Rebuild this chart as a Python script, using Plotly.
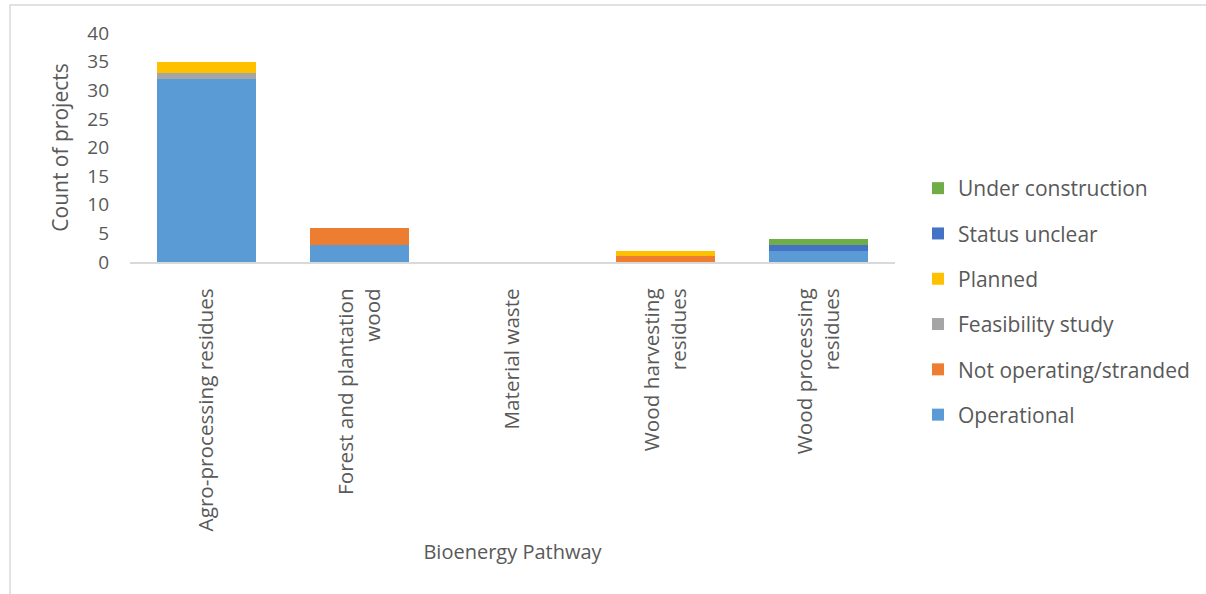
import plotly.graph_objects as go

categories = ["Agro-processing residues", "Forest and plantation<br>wood", "Material waste",
              "Wood harvesting<br>residues", "Wood processing<br>residues"]
operational = [32, 3, 0, 0, 2]
not_operating = [0, 3, 0, 1, 0]
feasibility = [1, 0, 0, 0, 0]
planned = [2, 0, 0, 1, 0]
status_unclear = [0, 0, 0, 0, 1]
under_construction = [0, 0, 0, 0, 1]

series = [
    ("Operational", operational, "#5B9BD5"),
    ("Not operating/stranded", not_operating, "#ED7D31"),
    ("Feasibility study", feasibility, "#A5A5A5"),
    ("Planned", planned, "#FFC000"),
    ("Status unclear", status_unclear, "#4472C4"),
    ("Under construction", under_construction, "#70AD47"),
]

FONT = "Open Sans"
TXT = "#595959"

fig = go.Figure()
n = len(series)
for i, (name, vals, col) in enumerate(series):
    fig.add_trace(go.Bar(x=categories, y=vals, name=name, marker_color=col,
                         marker_line_width=0, legendgroup=f"g{i}", legendrank=n - i))

L, R, T, B = 130, 311, 33, 332
W, H = 1206, 594
ph = H - T - B
pw = W - L - R

fig.update_layout(
    width=W, height=H, barmode="stack", bargap=0.353,
    margin=dict(l=L, r=R, t=T, b=B, autoexpand=False),
    paper_bgcolor="white", plot_bgcolor="white",
    font=dict(family=FONT, color=TXT, size=17),
    legend=dict(traceorder="grouped", tracegroupgap=15, maxheight=500,
                x=(918 - L) / pw, xanchor="left", y=(T + ph - 168) / ph, yanchor="top",
                font=dict(size=21, color=TXT), itemwidth=30),
    xaxis=dict(tickangle=-90, showline=True, linecolor="#D9D9D9", linewidth=2,
               ticks="", tickfont=dict(size=20.7, color=TXT), ticklabelstandoff=16,
               title=dict(text="Bioenergy Pathway", font=dict(size=20, color=TXT), standoff=15)),
    yaxis=dict(range=[0, 40], dtick=5, showgrid=False, zeroline=False, showline=False,
               tickfont=dict(size=19, color=TXT), ticklabelstandoff=20,
               title=dict(text="Count of projects", font=dict(size=21, color=TXT), standoff=12)),
    shapes=[dict(type="rect", xref="paper", yref="paper",
                 x0=(10 - L) / pw, x1=(1212 - L) / pw,
                 y0=(T + ph - 600) / ph, y1=(T + ph - 5) / ph,
                 line=dict(color="#D9D9D9", width=1.5), fillcolor="rgba(0,0,0,0)", layer="below")],
)

fig.write_html("out.html")
